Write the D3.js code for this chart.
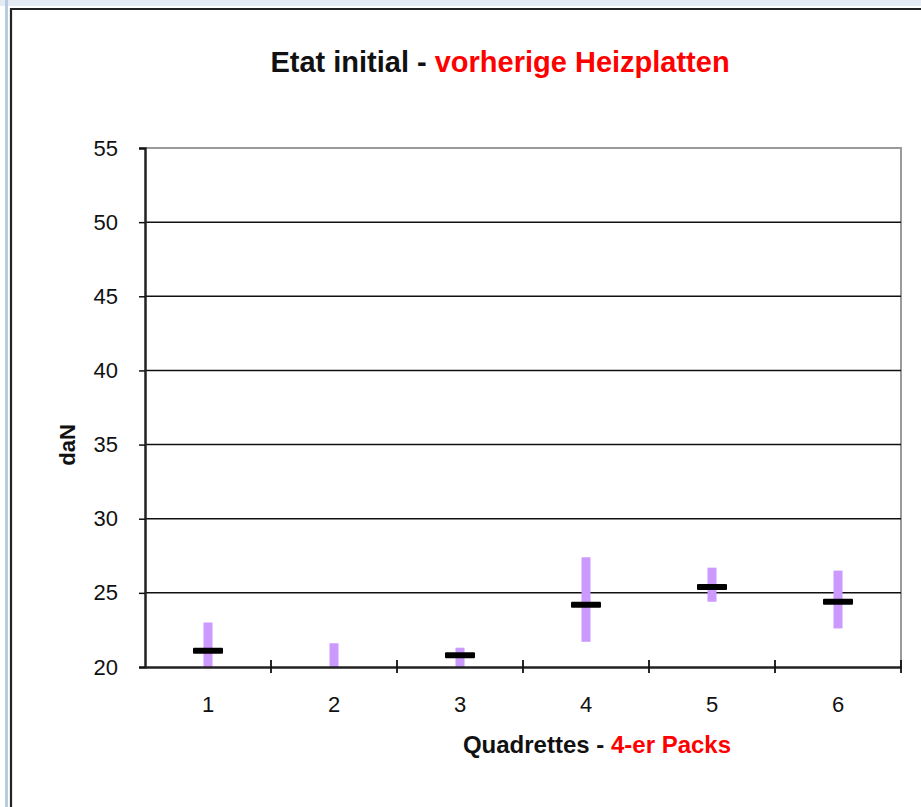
<!DOCTYPE html>
<style>

body {
  margin: 0;
  background: #fff;
}

text {
  font-family: Arial, "Liberation Sans", sans-serif;
}

</style>
<body>
<script src="https://d3js.org/d3.v7.min.js"></script>
<script>

var categories = ["1", "2", "3", "4", "5", "6"];
var maxValues  = [23.0, 21.6, 21.3, 27.4, 26.7, 26.5];
var minValues  = [19.0, 19.0, 19.0, 21.7, 24.4, 22.6];
var meanValues = [21.1, 19.5, 20.8, 24.2, 25.4, 24.4];
var yTicks = [20, 25, 30, 35, 40, 45, 50, 55];

var width = 921,
    height = 807;

var plotLeft = 145, plotRight = 901, plotTop = 148, plotBottom = 667;

var svg = d3.select("body").append("svg")
    .attr("width", width)
    .attr("height", height);

// window frame
svg.append("rect")
    .attr("x", 0).attr("y", 0)
    .attr("width", width).attr("height", 6)
    .attr("fill", "#e4ebf3");
svg.append("rect")
    .attr("x", 5).attr("y", 0)
    .attr("width", 3).attr("height", height)
    .attr("fill", "#b7cbe3");
svg.append("path")
    .attr("d", "M11," + height + "V9H" + width)
    .attr("fill", "none")
    .attr("stroke", "#222")
    .attr("stroke-width", 2.2);

var x = d3.scaleBand()
    .domain(categories)
    .range([plotLeft, plotRight]);

var y = d3.scaleLinear()
    .domain([20, 55])
    .range([plotBottom, plotTop]);

svg.append("defs").append("clipPath")
    .attr("id", "plot")
  .append("rect")
    .attr("x", plotLeft)
    .attr("y", plotTop)
    .attr("width", plotRight - plotLeft)
    .attr("height", plotBottom - plotTop);

// plot frame (top and right, grey)
svg.append("path")
    .attr("d", "M" + plotLeft + "," + plotTop + "H" + plotRight + "V" + plotBottom)
    .attr("fill", "none")
    .attr("stroke", "#9a9a9a")
    .attr("stroke-width", 2);

// gridlines
svg.append("g")
  .selectAll("line")
    .data(yTicks.filter(function(d) { return d > 20 && d < 55; }))
  .enter().append("line")
    .attr("x1", plotLeft)
    .attr("x2", plotRight)
    .attr("y1", function(d) { return y(d); })
    .attr("y2", function(d) { return y(d); })
    .attr("stroke", "#111")
    .attr("stroke-width", 1.5);

var plot = svg.append("g").attr("clip-path", "url(#plot)");

// min-max range bars
plot.selectAll(".range")
    .data(categories)
  .enter().append("rect")
    .attr("class", "range")
    .attr("x", function(d) { return x(d) + x.bandwidth() / 2 - 4.5; })
    .attr("width", 9)
    .attr("y", function(d, i) { return y(maxValues[i]); })
    .attr("height", function(d, i) { return y(minValues[i]) - y(maxValues[i]); })
    .attr("fill", "#cc99ff");

// mean markers
plot.selectAll(".mean")
    .data(categories)
  .enter().append("rect")
    .attr("class", "mean")
    .attr("x", function(d) { return x(d) + x.bandwidth() / 2 - 15; })
    .attr("width", 30)
    .attr("y", function(d, i) { return y(meanValues[i]) - 3; })
    .attr("height", 6)
    .attr("rx", 1)
    .attr("fill", "#000");

// y axis
var yAxis = svg.append("g")
    .attr("transform", "translate(" + plotLeft + ",0)")
    .call(d3.axisLeft(y).tickValues(yTicks).tickSize(6).tickPadding(21));
yAxis.select(".domain").attr("stroke", "#222").attr("stroke-width", 2.5);
yAxis.selectAll(".tick line").attr("stroke", "#111").attr("stroke-width", 1.5);
yAxis.selectAll("text")
    .attr("font-size", 22)
    .attr("fill", "#111");

// x axis
var xAxis = svg.append("g")
    .attr("transform", "translate(0," + plotBottom + ")")
    .call(d3.axisBottom(x).tickSize(0).tickPadding(29));
xAxis.select(".domain").attr("stroke", "#222").attr("stroke-width", 2.5);
xAxis.selectAll("text")
    .attr("font-size", 22)
    .attr("fill", "#111");

// category separators crossing the x axis
svg.append("g")
  .selectAll("line")
    .data(categories)
  .enter().append("line")
    .attr("x1", function(d) { return x(d) + x.bandwidth(); })
    .attr("x2", function(d) { return x(d) + x.bandwidth(); })
    .attr("y1", plotBottom - 7)
    .attr("y2", plotBottom + 6)
    .attr("stroke", "#111")
    .attr("stroke-width", 1.8);

// title
var title = svg.append("text")
    .attr("x", 500)
    .attr("y", 72)
    .attr("text-anchor", "middle")
    .attr("font-size", 29)
    .attr("font-weight", "bold");
title.append("tspan").attr("fill", "#111").text("Etat initial - ");
title.append("tspan").attr("fill", "#ff0000").text("vorherige Heizplatten");

// x label
var xLabel = svg.append("text")
    .attr("x", 597)
    .attr("y", 753)
    .attr("text-anchor", "middle")
    .attr("font-size", 24)
    .attr("font-weight", "bold");
xLabel.append("tspan").attr("fill", "#111").text("Quadrettes - ");
xLabel.append("tspan").attr("fill", "#ff0000").text("4-er Packs");

// y label
svg.append("text")
    .attr("transform", "translate(75,445)rotate(-90)")
    .attr("text-anchor", "middle")
    .attr("font-size", 22)
    .attr("font-weight", "bold")
    .attr("fill", "#111")
    .text("daN");

</script>
